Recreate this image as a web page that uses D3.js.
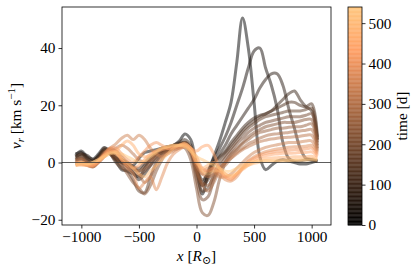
<!DOCTYPE html>
<html>
<head>
<meta charset="utf-8">
<script src="https://cdn.jsdelivr.net/npm/d3@7"></script>
<style>
  body { margin: 0; background: #fff; }
  svg, svg text { font-family: "Liberation Serif", "DejaVu Serif", serif; }
</style>
</head>
<body>
<svg id="chart" width="416" height="273"></svg>
<script>
// x positions (R_sun) shared by every profile
const xGrid = [-1050, -1000, -950, -900, -850, -800, -750, -700, -650, -600, -550,
  -500, -450, -400, -350, -300, -250, -200, -150, -100, -50, 0, 50, 100, 150, 200,
  250, 300, 350, 400, 450, 500, 550, 600, 650, 700, 750, 800, 850, 900, 950, 1000, 1050];

// snapshot times in days
const times = [0, 32, 64, 95, 127, 159, 191, 222, 254, 286, 318, 349, 381, 413, 445, 476, 508, 540];

// radial velocity profiles (km/s), one per snapshot
const vr0 = [2.5, 4, 2, 1.2, 3, 5.2, 3.5, 1, 0, -0.5, -1, 1.5, 3.5, 4, 4.5, 5, 5.5, 6, 7.5, 10, 8, -1.5, -11, -4, 2, 7.5, 14, 21, 35, 50.5, 40, 21, 2, -2.5, -1, 0.5, 1, 0.5, 0, -0.5, -0.5, 0, 0.5];
const vr1 = [3, 3.5, 1.5, 0.5, 2.5, 4.5, 3, 0.5, -2.5, -3, -4, -5, -2, 1, 3, 4, 5, 6, 6.5, 7, 5, -2, -7, -3, 1.5, 5, 9, 14, 20, 26, 33, 39, 40, 33, 27, 19, 7, 1.5, 0.5, 0.5, 1, 1, 0.5];
const vr2 = [2, 3, 2.5, 1, 2, 4, 3.5, 1.5, 0, -1.5, -3.5, -6, -4, -1, 2, 3.5, 4.5, 5.5, 6, 6.5, 4, -3, -8, -5, 0, 3, 6, 10, 13, 16, 19, 22, 26, 29, 31, 31, 27, 19, 12, 5, 1.5, 1, 0.5];
const vr3 = [1.5, 2.5, 1, -0.5, 1, 4, 4.5, 2, 0.5, -1, -2, -3, -1, 1, 3, 4, 5, 6, 7, 8, 6, -1, -6, -4, 0, 2, 4, 7, 9.5, 12, 14, 15.5, 16.5, 17, 18, 20, 22, 24, 25, 22, 19.5, 18, 8];
const vr4 = [2, 3, 1.5, 0.5, 2, 5, 4, 1.5, 1, 0, -1.5, -2, 0, 2, 3.5, 5, 5.5, 6, 6.5, 7, 5, -2, -8, -6, -1, 1.5, 3.5, 6, 8.5, 11, 13, 14.5, 16, 17, 18, 19, 20, 21, 21, 20, 19.5, 20.5, 9];
const vr5 = [1, 2, 0.5, -1, 1, 4, 3, 0, -2, -3, -6, -10, -10.5, -5, 0, 3, 4.5, 5, 6, 6.5, 4, -4, -10, -9, -4, 0, 2.5, 5, 7.5, 10, 12, 13.5, 15, 16, 16.5, 17, 17.5, 18, 18, 18, 18.5, 19, 8];
const vr6 = [0.5, 1.5, 0, -1.5, 0.5, 3.5, 3, 1, -1, -2, -3, -4.5, -3, -1, 1, 3, 4, 5, 5.5, 6, 3, -6, -13, -12, -6, -2, 1.5, 4, 6.5, 8.5, 10.5, 12, 13, 14, 14.5, 15, 15.5, 16, 16, 16, 16.5, 17, 7];
const vr7 = [1, 1.5, 0, -1, 1, 3, 3.5, 2, -1, -4, -7, -9, -11, -8, -3, 1, 4, 5, 5.5, 5, 1, -9, -17.5, -18.5, -14, -6, 0, 3, 5, 7, 9, 10.5, 11.5, 12.5, 13, 13.5, 14, 14, 14, 14.5, 15, 15, 6];
const vr8 = [0, 1, -0.5, -1.5, 0.5, 3, 4, 3, 1, -0.5, -2, -3, -2, 0, 2, 3.5, 4, 5, 6, 7, 5, -2, -7, -8, -5, -2, 0, 2.5, 4.5, 6.5, 8, 9.5, 10.5, 11, 11.5, 12, 12, 12.3, 12.5, 12.5, 13, 13.5, 5];
const vr9 = [0.5, 1, 0, -1, 1, 3.5, 5, 4, 2, 0, -1.5, -4, -7, -5, -1, 2, 3.5, 4.5, 5, 6, 4.5, -3, -8, -10, -7, -3, -1, 1.5, 3.5, 5, 6.5, 7.5, 8.5, 9.3, 9.8, 10, 10.3, 10.5, 10.8, 11, 11.3, 11.5, 4.5];
const vr10 = [-0.5, 0, -1, -1.5, 0, 2, 4, 5, 6, 5, 3, 1, 0, 1, 3, 4.5, 5, 5.5, 6, 6.5, 5, 0, -4, -5, -4, -2, 0, 1.5, 3, 4.5, 5.5, 6.5, 7.3, 7.8, 8.2, 8.5, 8.7, 8.8, 9, 9.2, 9.5, 9.5, 4];
const vr11 = [-0.5, 0, -0.5, -1, 0.5, 3, 5, 6.5, 8.5, 9.5, 8, 9.5, 8, 5, 3, 2, 3, 4, 5, 5.5, 4, -1, -4, -3, -3, -5, -5, -4, -2, 0, 2, 3.5, 4.5, 5.3, 5.8, 6.2, 6.6, 7, 7, 7.2, 7.5, 7.5, 3.5];
const vr12 = [-1, -0.5, -1, -1.5, 0, 2.5, 4.5, 4, 1, -2, -4, -9, -7, -5, -9.5, -5, 0, 3, 4.5, 5.5, 4.5, 0, -3, -2, -2, -4, -6, -6.5, -5, -2, 0.5, 2, 3, 3.8, 4.3, 4.7, 5, 5.3, 5.5, 5.5, 5.7, 6, 3];
const vr13 = [-0.5, -0.5, -1, -1, 0.5, 3, 5, 5, 3, 1, 0, 2, 4, 6, 7, 6, 5, 5, 5.5, 6, 5, 2, -2, -3, -2, -3, -5, -6, -4, -1.5, 0.5, 1.5, 2.5, 3.2, 3.6, 3.9, 4.1, 4.3, 4.5, 4.5, 4.7, 5, 2.5];
const vr14 = [0, 0, -0.5, -1, 0.5, 2.5, 4, 3.5, 1, -1, -2, -1, 1, 3, 4, 4.5, 5, 5.5, 6, 6.5, 5, 4, 5.5, 6, 3, -2, -5, -5.5, -4, -2, -0.5, 0.8, 1.8, 2.4, 2.8, 3, 3.2, 3.2, 3.3, 3.5, 3.5, 3.7, 2];
const vr15 = [-1, -1, -1, -0.5, 0.5, 2, 3.5, 4, 6, 7.5, 6, 3, 2, 2.5, 4, 5, 5.5, 6, 6, 6, 4, 0, -2, -1, 0, -2, -4, -5, -4, -2.5, -1, 0.2, 1, 1.4, 1.6, 1.7, 1.8, 1.8, 2, 2, 2, 2.2, 1.5];
const vr16 = [-1, -0.5, -0.5, 0, 1, 2.5, 3.5, 3, 1.5, 0, -2, -4, -5, -3, -1, 1, 3, 5, 6, 6.5, 5, 1, -3, -4, -3, -3, -4, -4.5, -3.5, -2, -1, -0.3, 0.2, 0.5, 0.6, 0.7, 0.8, 0.8, 1, 1, 1.2, 1.3, 1];
const vr17 = [-0.5, 0, -0.5, 0, 1, 2, 3, 3.5, 3, 2, 1, 0, 0.5, 2, 3.5, 5, 5.5, 6, 6, 5.5, 4, 2, 1, 0, -1, -2, -3, -3, -2, -1, 0, 0.3, 0.5, 0.5, 0.5, 0.5, 0.6, 0.6, 0.7, 0.8, 0.8, 1, 0.8];

const profiles = [vr0, vr1, vr2, vr3, vr4, vr5, vr6, vr7, vr8, vr9, vr10, vr11, vr12, vr13, vr14, vr15, vr16, vr17];

const xTicks = [-1000, -500, 0, 500, 1000];
const yTicks = [-20, 0, 20, 40];
const cTicks = [0, 100, 200, 300, 400, 500];

const plot = { left: 62, right: 331, top: 7, bottom: 225 };
const cbar = { left: 348, right: 362 };
const serif = "'Liberation Serif', 'DejaVu Serif', serif";

// matplotlib "copper"
function copper(f) {
    return d3.rgb(255 * Math.min(1, 1.25 * f), 255 * 0.7812 * f, 255 * 0.4975 * f);
}

const minus = d => d3.format("d")(d).replace("-", "\u2212");

const svg = d3.select("#chart");

const x = d3.scaleLinear().domain([-1168, 1168]).range([plot.left, plot.right]);
const y = d3.scaleLinear().domain([-21.84, 54.34]).range([plot.bottom, plot.top]);
const c = d3.scaleLinear().domain([0, 540]).range([plot.bottom, plot.top]);

const line = d3.line()
    .x((d, i) => x(xGrid[i]))
    .y(d => y(d))
    .curve(d3.curveCatmullRom.alpha(0.5));

svg.append("g")
    .selectAll("path")
    .data(profiles)
    .join("path")
    .attr("fill", "none")
    .attr("stroke", (d, i) => copper(times[i] / 540))
    .attr("stroke-opacity", 0.5)
    .attr("stroke-width", 3)
    .attr("stroke-linejoin", "round")
    .attr("d", line);

// zero line
svg.append("line")
    .attr("x1", plot.left).attr("x2", plot.right)
    .attr("y1", y(0)).attr("y2", y(0))
    .attr("stroke", "#333")
    .attr("stroke-width", 0.8);

// axes
const xAxis = svg.append("g")
    .attr("transform", `translate(0, ${plot.bottom})`)
    .call(d3.axisBottom(x).tickValues(xTicks).tickSize(3.5).tickPadding(3).tickFormat(minus));

const yAxis = svg.append("g")
    .attr("transform", `translate(${plot.left}, 0)`)
    .call(d3.axisLeft(y).tickValues(yTicks).tickSize(3.5).tickPadding(3).tickFormat(minus));

const cAxis = svg.append("g")
    .attr("transform", `translate(${cbar.right}, 0)`)
    .call(d3.axisRight(c).tickValues(cTicks).tickSize(3.5).tickPadding(3));

[xAxis, yAxis, cAxis].forEach(g => {
    g.attr("font-family", null).attr("font-size", null);
    g.select(".domain").remove();
    g.selectAll("line").attr("stroke", "#000").attr("stroke-width", 0.8);
    g.selectAll("text")
        .attr("fill", "#000")
        .style("font-family", serif)
        .style("font-size", "15.3px");
});

svg.append("rect")
    .attr("x", plot.left).attr("y", plot.top)
    .attr("width", plot.right - plot.left).attr("height", plot.bottom - plot.top)
    .attr("fill", "none").attr("stroke", "#000").attr("stroke-width", 0.8);

// colorbar
const steps = d3.range(0, 540, 2);
svg.append("g")
    .selectAll("rect")
    .data(steps)
    .join("rect")
    .attr("x", cbar.left)
    .attr("width", cbar.right - cbar.left)
    .attr("y", d => c(d + 2))
    .attr("height", d => c(d) - c(d + 2) + 0.3)
    .attr("fill", d => copper((d + 1) / 540));

svg.append("rect")
    .attr("x", cbar.left).attr("y", plot.top)
    .attr("width", cbar.right - cbar.left).attr("height", plot.bottom - plot.top)
    .attr("fill", "none").attr("stroke", "#000").attr("stroke-width", 0.8);

// axis labels
const xl = svg.append("text")
    .attr("x", (plot.left + plot.right) / 2)
    .attr("y", 261)
    .attr("text-anchor", "middle")
    .style("font-family", serif)
    .style("font-size", "15.3px");
xl.append("tspan").attr("font-style", "italic").text("x");
xl.append("tspan").text(" [");
xl.append("tspan").attr("font-style", "italic").text("R");
xl.append("tspan").attr("dy", 3).attr("font-size", "11px").text("\u2299");
xl.append("tspan").attr("dy", -3).text("]");

const yl = svg.append("text")
    .attr("transform", `translate(21, ${(plot.top + plot.bottom) / 2}) rotate(-90)`)
    .attr("text-anchor", "middle")
    .style("font-family", serif)
    .style("font-size", "15.3px");
yl.append("tspan").attr("font-style", "italic").text("v");
yl.append("tspan").attr("font-style", "italic").attr("dy", 3).attr("font-size", "11px").text("r");
yl.append("tspan").attr("dy", -3).text(" [km s");
yl.append("tspan").attr("dy", -6).attr("font-size", "11px").text("\u22121");
yl.append("tspan").attr("dy", 6).text("]");

svg.append("text")
    .attr("transform", `translate(407, ${(plot.top + plot.bottom) / 2}) rotate(-90)`)
    .attr("text-anchor", "middle")
    .style("font-family", serif)
    .style("font-size", "15.3px")
    .text("time [d]");
</script>
</body>
</html>
